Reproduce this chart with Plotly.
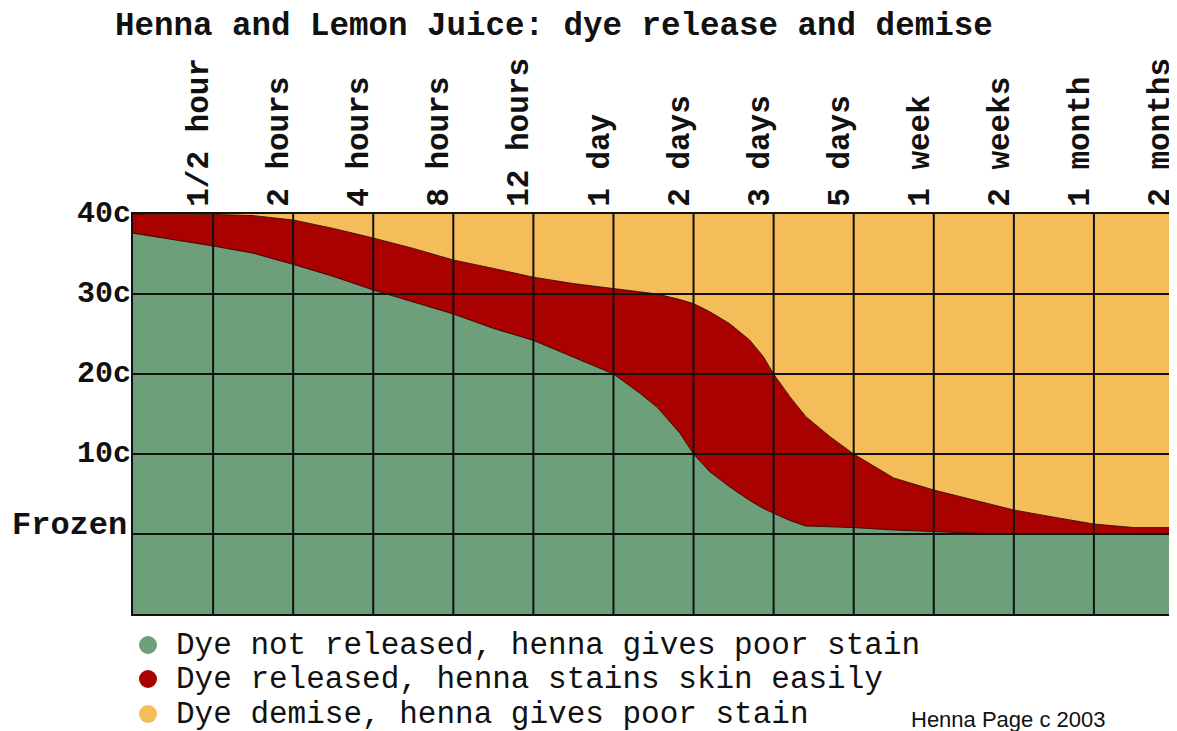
import plotly.graph_objects as go

TITLE = "Henna and Lemon Juice: dye release and demise"
TIME_LABELS = ["1/2 hour", "2 hours", "4 hours", "8 hours", "12 hours", "1 day",
               "2 days", "3 days", "5 days", "1 week", "2 weeks", "1 month", "2 months"]
TEMP_TICKS = [40, 30, 20, 10]
TEMP_LABELS = ["40c", "30c", "20c", "10c"]
FROZEN_TEMP = 0
FROZEN_LABEL = "Frozen"
T_MIN, T_MAX = -10, 40

# positions along the time axis, in columns (k = k-th time label, 0 = left edge)
X_POS = [0, 0.5, 1, 1.5, 2, 2.5, 3, 3.5, 4, 4.5, 5, 5.5, 6, 6.33, 6.55, 6.83, 7,
         7.2, 7.45, 7.7, 7.87, 8, 8.2, 8.4, 8.7, 9, 9.5, 10, 10.5, 11, 11.5, 12,
         12.5, 13]
# upper edge of the "dye not released" zone (degrees C)
RELEASE_TEMP = [37.6, 36.8, 36.0, 35.1, 33.7, 32.2, 30.5, 29.0, 27.5, 25.7, 24.2,
                22.1, 20.0, 17.6, 15.8, 12.6, 10.0, 7.8, 5.9, 4.2, 3.2, 2.6, 1.7,
                1.0, 0.9, 0.8, 0.5, 0.3, 0.1, 0.0, 0.0, 0.0, 0.0, 0.0]
# upper edge of the "dye released" zone (degrees C)
DEMISE_TEMP = [40.0, 40.0, 39.95, 39.8, 39.25, 38.2, 37.0, 35.7, 34.25, 33.2, 32.1,
               31.3, 30.7, 30.3, 30.0, 29.3, 28.8, 27.8, 26.3, 24.25, 22.2, 20.0,
               17.2, 14.7, 12.2, 10.0, 7.0, 5.5, 4.25, 3.0, 2.1, 1.25, 0.8, 0.8]

LEGEND_LABELS = ["Dye not released, henna gives poor stain",
                 "Dye released, henna stains skin easily",
                 "Dye demise, henna gives poor stain"]
CREDIT = "Henna Page c 2003"

GREEN = "#6E9F7B"
RED = "#A90000"
ORANGE = "#F5BD5A"
COLORS = [GREEN, RED, ORANGE]
EDGE = "rgba(40,0,0,0.85)"
MONO = "Liberation Mono"

# the page body adds an 8px offset; the figure is sized to end at the window edge
OFF = 8
W, H = 1177 - OFF, 731 - OFF
ML, MR, MT, MB = 133 - OFF, W - (1174 - OFF), 214 - OFF, H - (614 - OFF)
PW, PH = W - ML - MR, H - MT - MB


def px_x(xpx):  # screen pixel -> paper x
    return (xpx - OFF - ML) / PW


def px_y(ypx):  # screen pixel -> paper y
    return (H - MB - (ypx - OFF)) / PH


n = len(X_POS)
fig = go.Figure()
fig.add_trace(go.Scatter(x=X_POS, y=[T_MIN] * n, mode="lines",
                         line=dict(width=0, color=GREEN), showlegend=False,
                         hoverinfo="skip"))
fig.add_trace(go.Scatter(x=X_POS, y=RELEASE_TEMP, mode="lines", fill="tonexty",
                         fillcolor=GREEN, line=dict(width=1, color=EDGE),
                         name=LEGEND_LABELS[0], showlegend=False))
fig.add_trace(go.Scatter(x=X_POS, y=DEMISE_TEMP, mode="lines", fill="tonexty",
                         fillcolor=RED, line=dict(width=1, color=EDGE),
                         name=LEGEND_LABELS[1], showlegend=False))
fig.add_trace(go.Scatter(x=X_POS, y=[T_MAX] * n, mode="lines", fill="tonexty",
                         fillcolor=ORANGE, line=dict(width=0, color=ORANGE),
                         name=LEGEND_LABELS[2], showlegend=False))

tick_x = list(range(1, len(TIME_LABELS) + 1))
shapes = []
for k in tick_x:
    shapes.append(dict(type="line", xref="x", yref="y", x0=k, x1=k, y0=T_MIN, y1=T_MAX,
                       line=dict(color="#111", width=2), layer="above"))
for t in TEMP_TICKS[1:] + [FROZEN_TEMP]:
    shapes.append(dict(type="line", xref="x", yref="y", x0=0, x1=len(TIME_LABELS),
                       y0=t, y1=t, line=dict(color="#111", width=2), layer="above"))

legend_y_px = [645, 679, 714]
annotations = []
for lab, col, ypx in zip(LEGEND_LABELS, COLORS, legend_y_px):
    shapes.append(dict(type="circle", xref="paper", yref="paper",
                       xsizemode="pixel", ysizemode="pixel",
                       xanchor=px_x(148), yanchor=px_y(ypx),
                       x0=-9, x1=9, y0=-9, y1=9,
                       fillcolor=col, line=dict(width=0), layer="above"))
    annotations.append(dict(text=lab, xref="paper", yref="paper",
                            x=px_x(174), y=px_y(ypx),
                            xanchor="left", yanchor="middle", showarrow=False,
                            font=dict(family=MONO, size=31, color="#111")))

annotations.append(dict(text=CREDIT, xref="paper", yref="paper",
                        x=px_x(909), y=px_y(719),
                        xanchor="left", yanchor="middle", showarrow=False,
                        font=dict(family="Liberation Sans", size=22, color="#111")))
annotations.append(dict(text=FROZEN_LABEL, xref="paper", yref="y", x=0, y=FROZEN_TEMP,
                        xanchor="right", yanchor="bottom", xshift=-4, yshift=-12,
                        showarrow=False,
                        font=dict(family=MONO, size=32, color="#111", weight="bold")))

fig.update_layout(
    width=W, height=H,
    margin=dict(l=ML, r=MR, t=MT, b=MB, autoexpand=False),
    paper_bgcolor="white", plot_bgcolor=ORANGE,
    title=dict(text=TITLE, xref="container", yref="container",
               x=(115 - OFF) / W, xanchor="left", y=1 - (24 - OFF) / H, yanchor="middle",
               font=dict(family=MONO, size=32.5, color="#111", weight="bold")),
    shapes=shapes, annotations=annotations, showlegend=False,
)
fig.update_xaxes(range=[0, len(TIME_LABELS)], side="top", tickmode="array",
                 tickvals=tick_x, ticktext=TIME_LABELS, tickangle=-90,
                 ticks="", showgrid=False, zeroline=False, automargin=False,
                 ticklabeloverflow="allow",
                 showline=True, mirror=True, linecolor="#111", linewidth=2,
                 tickfont=dict(family=MONO, size=31, color="#111", weight="bold"),
                 ticklabelshift=-15, ticklabelstandoff=-1)
fig.update_yaxes(range=[T_MIN, T_MAX], tickmode="array", tickvals=TEMP_TICKS,
                 ticktext=TEMP_LABELS, ticks="", showgrid=False, zeroline=False,
                 automargin=False, ticklabeloverflow="allow",
                 showline=True, mirror=True, linecolor="#111", linewidth=2,
                 tickfont=dict(family=MONO, size=30, color="#111", weight="bold"),
                 ticklabelshift=-3, ticklabelstandoff=-6)

fig.write_html("out.html")
